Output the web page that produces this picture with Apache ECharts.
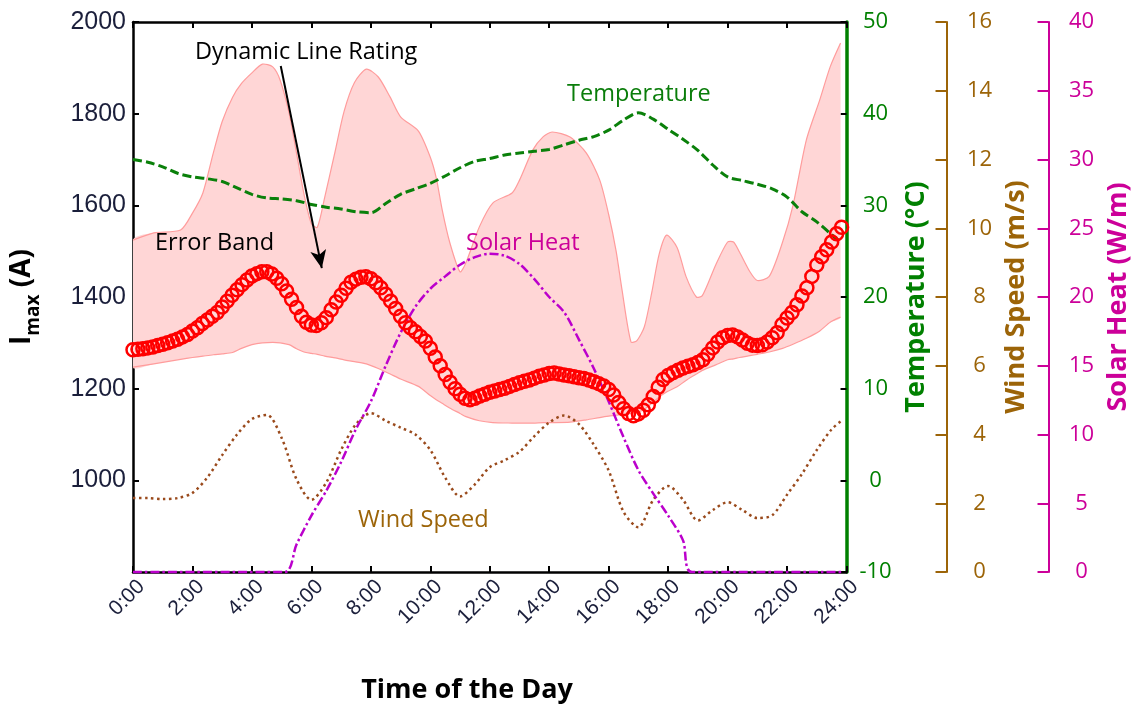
<!DOCTYPE html>
<html>
<head>
<meta charset="utf-8">
<script src="https://cdn.jsdelivr.net/npm/echarts@6/dist/echarts.min.js"></script>
<style>
  html, body { margin: 0; padding: 0; background: #ffffff; }
  #chart { width: 1140px; height: 709px; }
</style>
</head>
<body>
<div id="chart"></div>
<script>
// Dynamic line rating (A), sampled every 10 minutes from 0:00 to 23:50
const dlrStepMinutes = 10;
const dlrValues = [
  1285, 1286, 1287, 1289, 1291, 1294, 1297, 1300, 1304, 1308, 1313, 1318,
  1326, 1333, 1342, 1350, 1358, 1366, 1378, 1391, 1404, 1416, 1427, 1437,
  1446, 1451, 1455, 1455, 1450, 1441, 1429, 1413, 1395, 1377, 1358, 1345,
  1339, 1338, 1344, 1355, 1372, 1389, 1404, 1419, 1432, 1439, 1443, 1444,
  1440, 1431, 1420, 1406, 1391, 1375, 1358, 1344, 1333, 1324, 1314, 1304,
  1288, 1269, 1250, 1231, 1214, 1200, 1188, 1179, 1176, 1179, 1184, 1188,
  1192, 1195, 1198, 1201, 1205, 1209, 1213, 1216, 1219, 1223, 1227, 1230,
  1233, 1234, 1232, 1230, 1228, 1226, 1224, 1222, 1219, 1215, 1211, 1206,
  1198, 1186, 1170, 1156, 1146, 1141, 1145, 1153, 1165, 1183, 1203, 1220,
  1229, 1235, 1240, 1245, 1249, 1252, 1257, 1263, 1275, 1289, 1302, 1311,
  1316, 1317, 1313, 1306, 1299, 1295, 1294, 1296, 1302, 1311, 1322, 1340,
  1354, 1366, 1383, 1402, 1420, 1445, 1470, 1488, 1503, 1520, 1538, 1552
];

// Error band edges (A)
const bandHours = [
  0, 0.7, 1.6, 2.0, 2.35, 2.7, 3.0, 3.35, 3.65, 4.0,
  4.35, 4.7, 4.95, 5.25, 5.5, 5.75, 6.0, 6.2, 6.45, 6.8,
  7.1, 7.45, 7.85, 8.25, 8.65, 9.0, 9.6, 10.0, 10.2, 10.4,
  10.65, 11.0, 11.2, 11.65, 12.1, 12.75, 13.0, 13.45, 13.8, 14.1,
  14.7, 15.25, 15.7, 16.0, 16.25, 16.45, 16.75, 16.95, 17.2, 17.45,
  17.7, 17.95, 18.3, 18.6, 18.95, 19.15, 19.6, 20.0, 20.2, 20.4,
  20.75, 21.0, 21.4, 21.85, 22.2, 22.65, 23.1, 23.45, 23.8
];
const bandUpper = [
  1524, 1540, 1546, 1583, 1627, 1714, 1783, 1836, 1866, 1889,
  1908, 1902, 1873, 1801, 1714, 1625, 1560, 1552, 1618, 1718,
  1805, 1868, 1897, 1880, 1836, 1793, 1762, 1705, 1660, 1590,
  1520, 1455, 1475, 1553, 1605, 1627, 1655, 1721, 1750, 1760,
  1749, 1714, 1655, 1580, 1500, 1415, 1302, 1305, 1335, 1410,
  1494, 1535, 1508, 1445, 1400, 1403, 1470, 1520, 1520, 1498,
  1455, 1436, 1445, 1520, 1600, 1743, 1830, 1902, 1954
];
const bandLower = [
  1247, 1254, 1264, 1268, 1271, 1274, 1276, 1279, 1288, 1296,
  1300, 1301, 1300, 1296, 1287, 1280, 1277, 1275, 1271, 1267,
  1263, 1259, 1254, 1244, 1232, 1221, 1205, 1185, 1176, 1168,
  1158, 1146, 1139, 1130, 1126, 1125, 1125, 1125, 1126, 1126,
  1127, 1132, 1137, 1140, 1142, 1144, 1146, 1148, 1155, 1168,
  1182, 1193, 1204, 1218, 1232, 1240, 1252, 1263, 1265, 1268,
  1272, 1275, 1280, 1288, 1297, 1310, 1326, 1345, 1356
];

// Half-hourly weather readings
const weatherHours = [
  0, 0.5, 1, 1.5, 2, 2.5, 3, 3.5, 4, 4.5, 5, 5.5,
  6, 6.5, 7, 7.5, 8, 8.5, 9, 9.5, 10, 10.5, 11, 11.5,
  12, 12.5, 13, 13.5, 14, 14.5, 15, 15.5, 16, 16.5, 17, 17.5,
  18, 18.5, 19, 19.5, 20, 20.5, 21, 21.5, 22, 22.5, 23, 23.5, 23.83
];
const temperatureValues = [
  35.0, 34.7, 34.2, 33.5, 33.1, 32.9, 32.6, 31.9, 31.2, 30.8, 30.7, 30.5,
  30.1, 29.8, 29.6, 29.3, 29.2, 30.2, 31.2, 31.8, 32.4, 33.2, 34.1, 34.8,
  35.1, 35.5, 35.7, 35.9, 36.1, 36.6, 37.1, 37.5, 38.2, 39.3, 40.1, 39.4,
  38.3, 37.2, 36.0, 34.4, 33.1, 32.7, 32.3, 31.8, 30.9, 29.3, 28.2, 26.8, 25.9
];
const windValues = [
  2.15, 2.15, 2.12, 2.15, 2.3, 2.75, 3.4, 4.0, 4.45, 4.57, 3.9, 2.7,
  2.1, 2.6, 3.55, 4.3, 4.62, 4.4, 4.2, 4.0, 3.55, 2.75, 2.2, 2.55,
  3.05, 3.25, 3.5, 3.95, 4.35, 4.55, 4.3, 3.7, 2.95, 1.75, 1.3, 2.1,
  2.5, 2.1, 1.5, 1.8, 2.03, 1.8, 1.57, 1.65, 2.25, 2.85, 3.55, 4.15, 4.4
];
const solarHours = [
  0, 5.1, 5.5, 6, 6.5, 7, 7.5, 8, 8.5, 9, 9.5, 10, 10.5, 11, 11.5, 12,
  12.5, 13, 13.5, 14, 14.5, 15, 15.5, 16, 16.5, 17, 17.5, 18, 18.5, 18.8, 23.83
];
const solarValues = [
  0, 0, 2.0, 4.1, 5.9, 8.0, 10.4, 12.4, 15.0, 17.4, 19.3, 20.6, 21.5, 22.35, 22.9, 23.15,
  23.0, 22.4, 21.3, 20.0, 18.9, 16.9, 14.8, 12.4, 9.8, 7.4, 5.7, 4.1, 2.3, 0, 0
];

// Labelled values on the current axis
const currentTicks = [1000, 1200, 1400, 1600, 1800, 2000];

// Arrow for the "Dynamic Line Rating" callout: [hour, amps]
const arrowFrom = [4.97, 1904];
const arrowTo = [6.35, 1463];

const GREEN = '#0a7d0a';
const BROWN = '#9c6408';
const MAGENTA = '#cc0099';
const LABEL_FONT = 'Open Sans';
const NOTE_FONT = '23.5px "Open Sans"';

const pairs = (xs, ys) => xs.map((x, i) => [x, ys[i]]);
const dlrData = dlrValues.map((v, i) => [i * dlrStepMinutes / 60, v]);

const chart = echarts.init(document.getElementById('chart'), null, { renderer: 'canvas' });

const baseX = {
  type: 'value', min: 0, max: 24, interval: 2,
  axisLine: { show: true, onZero: false, lineStyle: { color: '#000', width: 2.5 } },
  axisTick: { show: true, inside: true, length: 6, lineStyle: { color: '#000', width: 2 } },
  splitLine: { show: false }
};

const rightAxis = (color, min, max, interval, offset, name, tickColor, tickLen, axisWidth) => ({
  type: 'value', position: 'right', offset, min, max, interval,
  axisLine: { show: true, onZero: false, lineStyle: { color, width: axisWidth } },
  axisTick: { show: true, inside: true, length: tickLen, lineStyle: { color: tickColor, width: 2 } },
  axisLabel: { color, fontFamily: LABEL_FONT, fontSize: 22, align: 'center', margin: offset === 0 ? 29 : 33 },
  splitLine: { show: false },
  name, nameLocation: 'middle', nameRotate: 90, nameGap: 55,
  nameTextStyle: { color, fontFamily: LABEL_FONT, fontWeight: 'bold', fontSize: 27 }
});

// Bounding box used to keep the smoothed band inside its own points
function boxOf(points) {
  const xs = points.map(p => p[0]);
  const ys = points.map(p => p[1]);
  return [[Math.min(...xs), Math.min(...ys)], [Math.max(...xs), Math.max(...ys)]];
}

// Error band: filled region between the two edges, with thin edge lines
function renderBand(params, api) {
  const up = bandHours.map((h, i) => api.coord([h, bandUpper[i]]));
  const lo = bandHours.map((h, i) => api.coord([h, bandLower[i]]));
  const ring = up.concat(lo.slice().reverse());
  const box = boxOf(ring);
  return {
    type: 'group',
    children: [
      { type: 'polygon', shape: { points: ring, smooth: 0.25, smoothConstraint: box },
        style: { fill: '#ffd6d6', stroke: null } },
      { type: 'polyline', shape: { points: up, smooth: 0.25, smoothConstraint: box },
        style: { fill: null, stroke: '#ff9c9c', lineWidth: 1.2 } },
      { type: 'polyline', shape: { points: lo, smooth: 0.25, smoothConstraint: box },
        style: { fill: null, stroke: '#ff9c9c', lineWidth: 1.2 } }
    ]
  };
}

const option = {
  animation: false,
  backgroundColor: '#ffffff',
  grid: { left: 133, right: 293, top: 22, bottom: 137, containLabel: false },
  xAxis: [
    Object.assign({}, baseX, {
      position: 'bottom',
      axisLabel: {
        rotate: 45, margin: 20, padding: [0, -12, 0, 0], formatter: v => v + ':00',
        fontFamily: 'Liberation Sans', fontSize: 21, color: '#1b1f3b'
      }
    }),
    Object.assign({}, baseX, { position: 'top', axisLabel: { show: false } })
  ],
  yAxis: [
    {
      type: 'value', position: 'left', min: 800, max: 2000,
      axisLine: { show: true, onZero: false, lineStyle: { color: '#000', width: 2.5 } },
      axisTick: { show: true, inside: true, length: 6, customValues: currentTicks, lineStyle: { color: '#000', width: 2 } },
      axisLabel: { customValues: currentTicks, formatter: v => String(v), fontFamily: 'Liberation Sans', fontSize: 25, color: '#1b1f3b', margin: 7 },
      splitLine: { show: false },
      name: '{m|I}{s|max}{m| (A)}', nameLocation: 'middle', nameRotate: 90, nameGap: 90,
      nameTextStyle: {
        rich: {
          m: { fontFamily: LABEL_FONT, fontWeight: 'bold', fontSize: 28, color: '#000', verticalAlign: 'middle', lineHeight: 32 },
          s: { fontFamily: LABEL_FONT, fontWeight: 'bold', fontSize: 19, color: '#000', verticalAlign: 'bottom', lineHeight: 42 }
        }
      }
    },
    rightAxis('#008000', -10, 50, 10, 0, 'Temperature (°C)', '#000', 6, 3.5),
    rightAxis(BROWN, 0, 16, 2, 100, 'Wind Speed (m/s)', BROWN, 11, 2),
    rightAxis(MAGENTA, 0, 40, 5, 202, 'Solar Heat (W/m)', MAGENTA, 11, 2)
  ],
  series: [
    {
      name: 'Error Band', type: 'custom', coordinateSystem: 'cartesian2d',
      xAxisIndex: 0, yAxisIndex: 0, silent: true, z: 1,
      data: [[bandHours[0], bandLower[0]]],
      renderItem: renderBand
    },
    {
      name: 'Wind Speed', type: 'line', xAxisIndex: 0, yAxisIndex: 2,
      data: pairs(weatherHours, windValues), smooth: 0.3, symbol: 'none', z: 3,
      lineStyle: { color: '#9a4a1c', width: 2.5, type: [2.5, 3.5] }
    },
    {
      name: 'Temperature', type: 'line', xAxisIndex: 0, yAxisIndex: 1,
      data: pairs(weatherHours, temperatureValues), smooth: 0.3, symbol: 'none', z: 3,
      lineStyle: { color: '#0a800a', width: 3, type: [9, 4] }
    },
    {
      name: 'Solar Heat', type: 'line', xAxisIndex: 0, yAxisIndex: 3, clip: false,
      data: pairs(solarHours, solarValues), smooth: 0.3, symbol: 'none', z: 3,
      lineStyle: { color: '#bb00cc', width: 2.5, type: [9, 3, 2.5, 3] }
    },
    {
      name: 'Dynamic Line Rating', type: 'line', xAxisIndex: 0, yAxisIndex: 0,
      data: dlrData, symbol: 'circle', symbolSize: 13, showSymbol: true, z: 5,
      lineStyle: { width: 0, opacity: 0 },
      itemStyle: { color: 'rgba(0,0,0,0)', borderColor: '#ff0000', borderWidth: 2.5 },
      markLine: {
        silent: true, animation: false,
        symbol: ['none', 'arrow'], symbolSize: [12, 18],
        label: { show: false },
        lineStyle: { color: '#000', width: 2, type: 'solid' },
        itemStyle: { color: '#000' },
        data: [[{ coord: arrowFrom }, { coord: arrowTo }]]
      }
    }
  ],
  graphic: [
    { type: 'text', x: 195, y: 52, z: 10, style: { text: 'Dynamic Line Rating', fill: '#000', font: NOTE_FONT, verticalAlign: 'middle' } },
    { type: 'text', x: 155, y: 243, z: 10, style: { text: 'Error Band', fill: '#000', font: NOTE_FONT, verticalAlign: 'middle' } },
    { type: 'text', x: 567, y: 94, z: 10, style: { text: 'Temperature', fill: GREEN, font: NOTE_FONT, verticalAlign: 'middle' } },
    { type: 'text', x: 466, y: 243, z: 10, style: { text: 'Solar Heat', fill: MAGENTA, font: NOTE_FONT, verticalAlign: 'middle' } },
    { type: 'text', x: 358, y: 520, z: 10, style: { text: 'Wind Speed', fill: BROWN, font: NOTE_FONT, verticalAlign: 'middle' } },
    { type: 'text', x: 467, y: 690, z: 10, style: { text: 'Time of the Day', fill: '#000', font: 'bold 27px "Open Sans"', align: 'center', verticalAlign: 'middle' } }
  ]
};

chart.setOption(option);
</script>
</body>
</html>
